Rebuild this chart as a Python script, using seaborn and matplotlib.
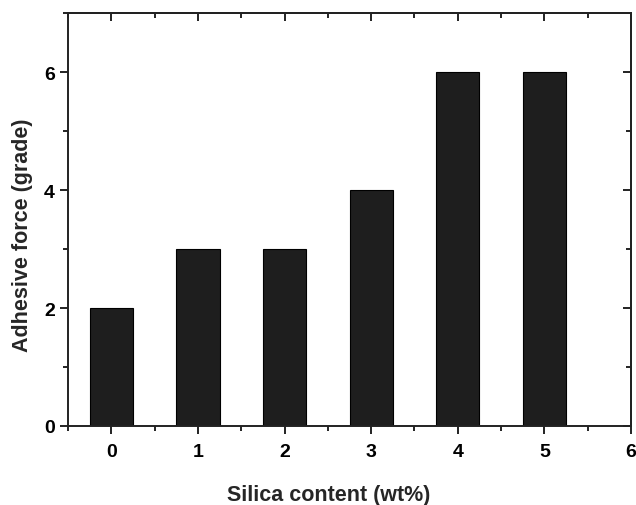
import matplotlib
matplotlib.use("Agg")
import matplotlib.pyplot as plt
import seaborn as sns
import pandas as pd
from matplotlib.ticker import MultipleLocator

# silica content (wt%) and adhesive force grade
silica = [0, 1, 2, 3, 4, 5]
force = [2, 3, 3, 4, 6, 6]

df = pd.DataFrame({"silica": silica, "force": force})

sns.set_style("ticks")
plt.rcParams['font.family'] = ['Liberation Sans', 'DejaVu Sans']
plt.rcParams['font.weight'] = 'bold'

fig = plt.figure(figsize=(6.36, 5.06), dpi=100)
ax = fig.add_axes([68 / 636, 1 - 427 / 506, (631 - 68) / 636, (427 - 14) / 506])

sns.barplot(data=df, x="silica", y="force", native_scale=True, width=0.5,
            color="#1e1e1e", edgecolor="black", linewidth=0.8, saturation=1, ax=ax)

ax.set_xlim(-0.5, 6)
ax.set_ylim(0, 7)
ax.xaxis.set_major_locator(MultipleLocator(1))
ax.xaxis.set_minor_locator(MultipleLocator(0.5))
ax.yaxis.set_major_locator(MultipleLocator(2))
ax.yaxis.set_minor_locator(MultipleLocator(1))

for side in ["top", "right", "bottom", "left"]:
    ax.spines[side].set_visible(True)
    ax.spines[side].set_linewidth(1.4)
    ax.spines[side].set_color("#222222")

ax.tick_params(axis="both", which="major", length=6, width=1.4, direction="out",
               labelsize=14, colors="#222222", labelcolor="black")
ax.tick_params(axis="x", which="major", pad=6)
ax.tick_params(axis="both", which="minor", length=3.6, width=1.4, direction="out",
               colors="#222222")
# secondary ticks on top and right point inward
ax2 = ax.secondary_xaxis("top")
ax2.xaxis.set_major_locator(MultipleLocator(1))
ax2.xaxis.set_minor_locator(MultipleLocator(0.5))
ax2.tick_params(which="major", direction="in", length=6, width=1.4, labeltop=False, colors="#222222")
ax2.tick_params(which="minor", direction="in", length=3.6, width=1.4, colors="#222222")
ax2.spines["top"].set_linewidth(1.4)
ax3 = ax.secondary_yaxis("right")
ax3.yaxis.set_major_locator(MultipleLocator(2))
ax3.yaxis.set_minor_locator(MultipleLocator(1))
ax3.tick_params(which="major", direction="in", length=6, width=1.4, labelright=False, colors="#222222")
ax3.tick_params(which="minor", direction="in", length=3.6, width=1.4, colors="#222222")
ax3.spines["right"].set_linewidth(1.4)

for lab in ax.get_xticklabels() + ax.get_yticklabels():
    lab.set_fontweight("bold")

ax.set_xlabel("Silica content (wt%)", fontsize=15.5, fontweight="bold", labelpad=17.5,
              x=(329 - 68) / 563)
ax.set_ylabel("Adhesive force (grade)", fontsize=15.5, fontweight="bold", labelpad=8,
              y=(427 - 235) / 413)

fig.savefig("out.png", dpi=100)
